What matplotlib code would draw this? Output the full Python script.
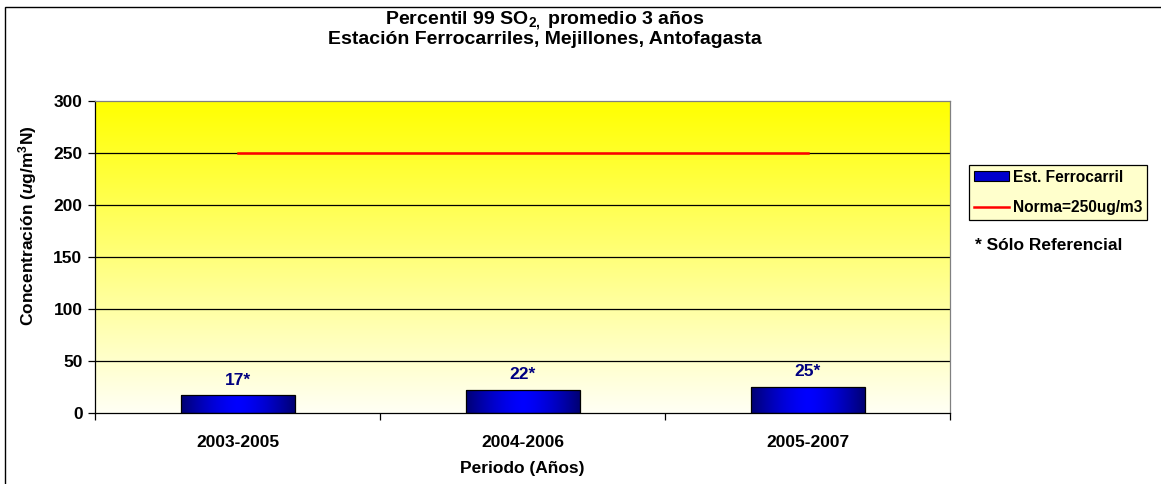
"""
Percentil 99 SO2 (promedio 3 años) - Estación Ferrocarriles, Mejillones
"""

import matplotlib.pyplot as plt
import matplotlib.patches as mpatches
from matplotlib.lines import Line2D
import numpy as np

#---------------------------------------------------------------------------------------------------
# Input Parameters
#---------------------------------------------------------------------------------------------------

periodos = ['2003-2005', '2004-2006', '2005-2007']
p99 = [17, 22, 25]
etiquetas = ['17*', '22*', '25*']
norma = 250

yticks = [0, 50, 100, 150, 200, 250, 300]

plt.rcParams['font.family'] = ['Liberation Sans', 'DejaVu Sans']
plt.rcParams['font.weight'] = 'bold'
plt.rcParams['mathtext.fontset'] = 'custom'
plt.rcParams['mathtext.rm'] = 'Liberation Sans:bold'
plt.rcParams['mathtext.it'] = 'Liberation Sans:bold:italic'
plt.rcParams['mathtext.bf'] = 'Liberation Sans:bold'

W, H = 1161, 484
fs = 12.5

#---------------------------------------------------------------------------------------------------
# Plot Data
#---------------------------------------------------------------------------------------------------

fig = plt.figure(figsize=(W/100, H/100), dpi=100)
fig.patch.set_facecolor('white')

# outer chart frame
fig.patches.append(mpatches.Rectangle((5/W, -0.05), 1.2, 1 - 7/H + 0.05, transform=fig.transFigure,
                                      fill=False, edgecolor='k', lw=1.0))

ax = fig.add_axes([95/W, (H - 413)/H, 855/W, 312/H])
ax.set_xlim(-0.5, len(periodos) - 0.5)
ax.set_ylim(yticks[0], yticks[-1])

# yellow (top) to near-white (bottom) background
grad = np.linspace(0, 1, 256)
bg = np.ones((256, 1, 3))
bg[:, 0, 2] = 0.96 * grad
ax.imshow(bg, extent=[-0.5, len(periodos) - 0.5, yticks[0], yticks[-1]], aspect='auto',
          origin='upper', zorder=0, interpolation='bilinear')

for yv in yticks[1:-1]:
    ax.axhline(yv, color='k', lw=0.9, zorder=1)

# bars with horizontal navy-blue-navy shading
x = np.arange(len(periodos))
bars = ax.bar(x, p99, width=0.40, facecolor='none', edgecolor='k', lw=0.9, zorder=3)
shade = np.abs(np.linspace(-1, 1, 200))
bar_img = np.zeros((1, 200, 3))
bar_img[0, :, 2] = 1.0 - 0.55*shade**1.5
for b in bars:
    x0, y0 = b.get_x(), b.get_y()
    ax.imshow(bar_img, extent=[x0, x0 + b.get_width(), y0, y0 + b.get_height()], aspect='auto',
              zorder=2, interpolation='bilinear')

for xi, v, lab in zip(x, p99, etiquetas):
    ax.annotate(lab, (xi, v), xytext=(0, 11), textcoords='offset points', ha='center', va='center',
                color='#000080', fontsize=fs, fontweight='bold')

ax.plot([x[0], x[-1]], [norma, norma], color='#FF0000', lw=1.8, zorder=4)

ax.set_xlim(-0.5, len(periodos) - 0.5)
ax.set_ylim(yticks[0], yticks[-1])
ax.set_yticks(yticks)
ax.set_xticks(x, labels=periodos)
ax.set_xticks(np.arange(-0.5, len(periodos)), minor=True)
ax.tick_params(axis='x', which='major', length=0, pad=16, labelsize=fs)
ax.tick_params(axis='x', which='minor', length=5, direction='out', width=0.9)
ax.tick_params(axis='y', length=5, direction='out', width=0.9, labelsize=fs, pad=4)
for s in ['top', 'right']:
    ax.spines[s].set_color('#808080')
for s in ['left', 'bottom']:
    ax.spines[s].set_color('k')
for sp in ax.spines.values():
    sp.set_linewidth(0.9)
    sp.set_zorder(5)

ax.set_xlabel('Periodo (Años)', fontsize=fs, fontweight='bold', labelpad=8)
ax.set_ylabel(r'Concentración ($\it{u}$g/m$^3$N)', fontsize=fs, fontweight='bold', labelpad=6)
ax.yaxis.set_label_coords(-0.066, 0.60)

fig.text(545/W, 1 - 21/H, r'Percentil 99 SO$_\mathrm{2,}\;$promedio 3 años', ha='center', va='center',
         fontsize=14, fontweight='bold')
fig.text(545/W, 1 - 40/H, 'Estación Ferrocarriles, Mejillones, Antofagasta', ha='center', va='center',
         fontsize=14, fontweight='bold')

# legend box
handles = [mpatches.Patch(facecolor='#0000CC', edgecolor='k', lw=0.8),
           Line2D([], [], color='#FF0000', lw=1.8)]
leg = fig.legend(handles, ['Est. Ferrocarril', 'Norma=250ug/m3'], loc='upper left',
                 bbox_to_anchor=(969/W, 1 - 165/H), fancybox=False, framealpha=1,
                 facecolor='#FFFFCC', edgecolor='k', fontsize=11.2, handlelength=2.3,
                 handletextpad=0.2, borderpad=0.3, labelspacing=1.0, borderaxespad=0,
                 handleheight=0.6)
leg.get_frame().set_linewidth(0.9)

fig.text(975/W, 1 - 245/H, '* Sólo Referencial', ha='left', va='center', fontsize=fs, fontweight='bold')

plt.savefig('out.png', dpi=100)
plt.close()
